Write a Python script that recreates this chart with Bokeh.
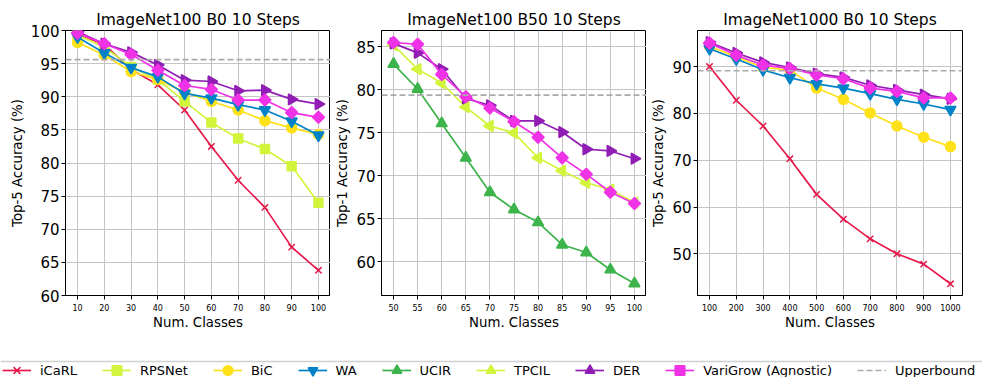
import math
from bokeh.plotting import figure
from bokeh.layouts import row, column
from bokeh.models import Range1d, FixedTicker, Span, Legend, LegendItem
from bokeh.embed import file_html
from bokeh.resources import INLINE

FONT = "DejaVu Sans"

# ---------------- data ----------------
classes1 = [10, 20, 30, 40, 50, 60, 70, 80, 90, 100]
classes2 = [50, 55, 60, 65, 70, 75, 80, 85, 90, 95, 100]
classes3 = [100, 200, 300, 400, 500, 600, 700, 800, 900, 1000]

# ImageNet100 B0 10 Steps (Top-5)
icarl1 = [99.4, 97.9, 94.1, 91.8, 88.0, 82.5, 77.4, 73.3, 67.3, 63.8]
rpsnet1 = [99.3, 97.5, 94.5, 92.6, 89.3, 86.1, 83.7, 82.1, 79.5, 74.0]
bic1 = [98.2, 96.3, 93.8, 92.6, 90.7, 89.3, 88.0, 86.4, 85.3, 84.3]
wa1 = [99.0, 96.6, 94.4, 93.0, 90.5, 89.8, 88.8, 88.0, 86.3, 84.2]
der1 = [99.8, 98.0, 96.7, 94.8, 92.5, 92.3, 90.9, 91.0, 89.6, 88.9]
varigrow1 = [99.6, 98.0, 96.4, 94.0, 91.7, 91.1, 89.5, 89.5, 87.6, 86.9]
upper1 = 95.6

# ImageNet100 B50 10 Steps (Top-1)
ucir2 = [83.0, 80.1, 76.1, 72.1, 68.1, 66.1, 64.6, 62.0, 61.1, 59.1, 57.5]
tpcil2 = [85.2, 82.4, 80.8, 78.0, 75.8, 75.0, 72.1, 70.6, 69.2, 68.4, 66.9]
der2 = [85.4, 84.3, 82.4, 79.0, 78.2, 76.4, 76.4, 75.1, 73.1, 72.9, 72.0]
varigrow2 = [85.5, 85.3, 81.8, 79.2, 77.9, 76.3, 74.5, 72.1, 70.2, 68.1, 66.8]
upper2 = 79.4

# ImageNet1000 B0 10 Steps (Top-5)
icarl3 = [90.0, 82.8, 77.3, 70.3, 62.7, 57.4, 53.2, 50.0, 47.8, 43.6]
bic3 = [94.3, 92.1, 89.8, 89.3, 85.4, 83.0, 80.1, 77.3, 74.9, 72.9]
wa3 = [93.8, 91.6, 89.3, 87.6, 86.3, 85.4, 84.2, 83.0, 82.0, 80.8]
der3 = [95.2, 92.9, 90.9, 89.8, 88.5, 87.7, 86.0, 85.0, 84.0, 83.1]
varigrow3 = [95.0, 92.4, 90.3, 89.6, 88.2, 87.4, 85.4, 84.7, 83.3, 83.3]
upper3 = 89.1

titles = ["ImageNet100 B0 10 Steps", "ImageNet100 B50 10 Steps", "ImageNet1000 B0 10 Steps"]
ylabels = ["Top-5 Accuracy (%)", "Top-1 Accuracy (%)", "Top-5 Accuracy (%)"]
xlabel = "Num. Classes"
yticks1 = [60, 65, 70, 75, 80, 85, 90, 95, 100]
yticks2 = [60, 65, 70, 75, 80, 85]
yticks3 = [50, 60, 70, 80, 90]

method_names = ["iCaRL", "RPSNet", "BiC", "WA", "UCIR", "TPCIL", "DER", "VariGrow (Agnostic)"]
upper_name = "Upperbound"

# ---------------- styles ----------------
STY = {
    "iCaRL": dict(color="#e6194b", marker="x", size=9, angle=0.0),
    "RPSNet": dict(color="#d2f53c", marker="square", size=9, angle=0.0),
    "BiC": dict(color="#ffe119", marker="circle", size=10, angle=0.0),
    "WA": dict(color="#0082c8", marker="inverted_triangle", size=11, angle=0.0),
    "UCIR": dict(color="#3cb44b", marker="triangle", size=11, angle=0.0),
    "TPCIL": dict(color="#d2f53c", marker="triangle", size=11, angle=math.pi / 2),
    "DER": dict(color="#911eb4", marker="triangle", size=11, angle=-math.pi / 2),
    "VariGrow (Agnostic)": dict(color="#f032e6", marker="square", size=8.5, angle=math.pi / 4),
}
UPPER_COLOR = "#aaaaaa"
LW = 1.7


def make_panel(title, ylabel, xs, series, upper, xr, yr, yticks, left, right):
    p = figure(frame_width=265, frame_height=265,
               min_border_left=left, min_border_right=right,
               min_border_top=30, min_border_bottom=36,
               x_range=Range1d(*xr), y_range=Range1d(*yr),
               output_backend="svg", toolbar_location=None, title=title)
    p.title.text_font = FONT
    p.title.text_font_size = "15.5px"
    p.title.text_font_style = "normal"
    p.title.text_color = "black"
    p.title.align = "center"
    p.title.standoff = 4
    p.outline_line_color = "black"
    p.outline_line_alpha = 1.0
    p.outline_line_width = 1
    p.background_fill_color = "white"
    p.border_fill_color = "white"

    p.xaxis.ticker = FixedTicker(ticks=xs)
    p.yaxis.ticker = FixedTicker(ticks=yticks)
    p.xaxis.axis_label = xlabel
    p.yaxis.axis_label = ylabel
    for ax in (p.xaxis, p.yaxis):
        ax.axis_line_color = "black"
        ax.major_tick_line_color = "black"
        ax.major_tick_out = 4
        ax.major_tick_in = 0
        ax.minor_tick_line_color = None
        ax.axis_label_text_font = FONT
        ax.axis_label_text_font_size = "13.3px"
        ax.axis_label_text_font_style = "normal"
        ax.axis_label_text_color = "black"
        ax.major_label_text_font = FONT
        ax.major_label_text_color = "black"
    p.xaxis.major_label_text_font_size = "8px"
    p.xaxis.major_label_standoff = 4
    p.xaxis.axis_label_standoff = 1
    p.yaxis.major_label_text_font_size = "15px"
    p.yaxis.major_label_standoff = 2
    p.yaxis.axis_label_standoff = 3
    p.grid.grid_line_color = "#c4c4c4"
    p.grid.grid_line_width = 1

    p.add_layout(Span(location=upper, dimension="width", line_color=UPPER_COLOR,
                      line_width=LW, line_dash="6 3"))
    for name, ys in series:
        s = STY[name]
        p.line(xs, ys, line_color=s["color"], line_width=LW)
        p.scatter(xs, ys, marker=s["marker"], size=s["size"], angle=s["angle"],
                  fill_color=s["color"], line_color=s["color"], line_width=1.5)
    return p


p1 = make_panel(titles[0], ylabels[0], classes1,
                [("iCaRL", icarl1), ("RPSNet", rpsnet1), ("BiC", bic1), ("WA", wa1),
                 ("DER", der1), ("VariGrow (Agnostic)", varigrow1)],
                upper1, (5.5, 104.5), (60, 100), yticks1, 65, 0)
p2 = make_panel(titles[1], ylabels[1], classes2,
                [("UCIR", ucir2), ("TPCIL", tpcil2), ("DER", der2),
                 ("VariGrow (Agnostic)", varigrow2)],
                upper2, (47.5, 102.5), (56.1, 86.9), yticks2, 51, 0)
p3 = make_panel(titles[2], ylabels[2], classes3,
                [("iCaRL", icarl3), ("BiC", bic3), ("WA", wa3), ("DER", der3),
                 ("VariGrow (Agnostic)", varigrow3)],
                upper3, (55, 1045), (41.1, 97.7), yticks3, 51, 20)

# ---------------- legend strip ----------------
LH = 45
lf = figure(frame_width=982, frame_height=LH, min_border=0,
            x_range=Range1d(0, 982), y_range=Range1d(0, LH),
            x_axis_location=None, y_axis_location=None,
            output_backend="svg", toolbar_location=None)
lf.outline_line_color = None
lf.grid.visible = False
lf.add_layout(Span(location=16, dimension="width", line_color="#d0d0d0", line_width=1.5))

# legend proxies sit outside the visible range; only their legend glyphs show
proxy_x = [-1000]
proxy_y = [-1000]
items = []
for name in method_names:
    s = STY[name]
    r1 = lf.line(proxy_x, proxy_y, line_color=s["color"], line_width=LW)
    r2 = lf.scatter(proxy_x, proxy_y, marker=s["marker"], size=s["size"], angle=s["angle"],
                    fill_color=s["color"], line_color=s["color"], line_width=1.5)
    items.append(LegendItem(label=name, renderers=[r1, r2]))
ru = lf.line(proxy_x, proxy_y, line_color=UPPER_COLOR, line_width=LW, line_dash="6 3")
items.append(LegendItem(label=upper_name, renderers=[ru]))

leg = Legend(items=items, orientation="horizontal", location=(2, -5),
             glyph_width=29, glyph_height=24, label_height=24, label_width=10,
             label_standoff=9, spacing=25, padding=0, margin=0,
             border_line_alpha=0, background_fill_alpha=0,
             label_text_font=FONT, label_text_font_size="13px",
             label_text_color="black")
lf.add_layout(leg)

layout = column(row(p1, p2, p3, spacing=0), lf, spacing=0)

with open("out.html", "w") as f:
    f.write(file_html(layout, INLINE))
